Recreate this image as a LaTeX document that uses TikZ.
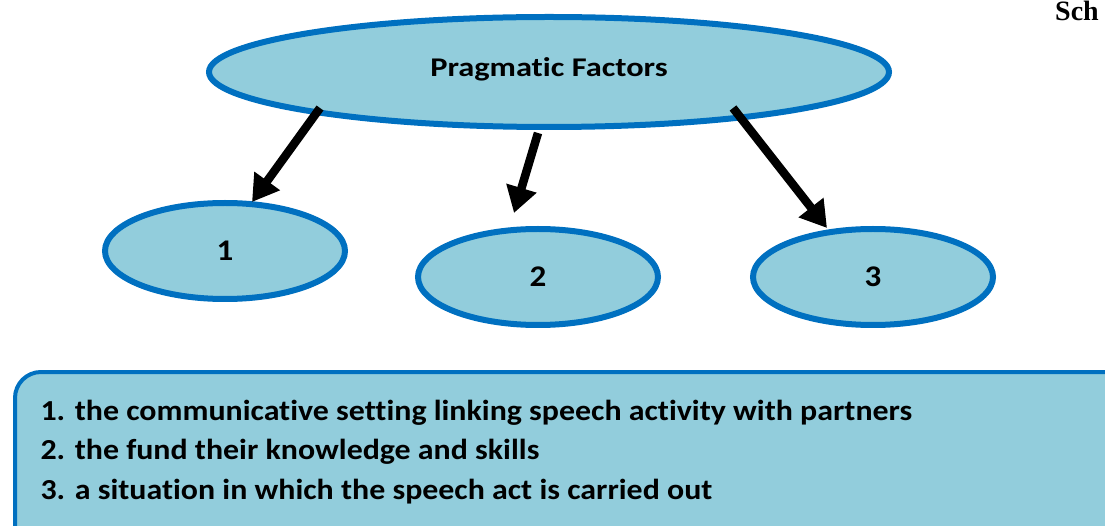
\documentclass[tikz,border=0pt]{standalone}
\usepackage{fontspec}
\setmainfont{Carlito}[RawFeature=-liga]
\newfontfamily\topfont{Carlito}[FakeStretch=1.2,RawFeature=-liga]
\newfontfamily\listfont{Carlito}[FakeStretch=1.1,RawFeature=-liga]
\newfontfamily\schfont{Liberation Serif}
\usetikzlibrary{shapes.geometric,arrows.meta}
\definecolor{ovfill}{HTML}{92CDDC}
\definecolor{ovline}{HTML}{0070C0}
\tikzset{
  oval/.style={ellipse, draw=ovline, line width=6pt, fill=ovfill, inner sep=0pt,
    font=\fontsize{30}{32}\selectfont\listfont\bfseries},
  arr/.style={line width=8.5pt, draw=black, -{Triangle[length=26pt,width=30pt]}},
}
\begin{document}
\begin{tikzpicture}[x=1pt,y=-1pt]
\useasboundingbox (0,0) rectangle (1105,526);
\clip (0,0) rectangle (1105,526);
\node[oval, minimum width=680pt, minimum height=110pt] (top) at (549,72) {};
\node[font=\fontsize{27}{30}\selectfont\topfont\bfseries] (toplabel) at (549,69) {Pragmatic Factors};
\node[oval, minimum width=240pt, minimum height=96pt] (e1) at (225,251) {1};
\node[oval, minimum width=240pt, minimum height=96pt] (e2) at (538,277) {2};
\node[oval, minimum width=240pt, minimum height=96pt] (e3) at (873,277) {3};
\coordinate (a1s) at (320,108); \coordinate (a1e) at (252,202);
\coordinate (a2s) at (538,133); \coordinate (a2e) at (514,213);
\coordinate (a3s) at (733,108); \coordinate (a3e) at (827,228);
\draw[arr] (a1s) -- (a1e);
\draw[arr] (a2s) -- (a2e);
\draw[arr] (a3s) -- (a3e);
\draw[draw=ovline, line width=4pt, fill=ovfill, rounded corners=26pt] (15,372) rectangle (1135,560);
\node[anchor=west, align=left, font=\fontsize{29}{39.5}\selectfont\listfont\bfseries] (list) at (37,452)
  {1. the communicative setting linking speech activity with partners\\
   2. the fund their knowledge and skills\\
   3. a situation in which the speech act is carried out};
\node[anchor=base west, inner sep=0pt, font=\fontsize{28}{32}\selectfont\bfseries\schfont] (sch) at (1055,21) {Sch};
\end{tikzpicture}
\end{document}
